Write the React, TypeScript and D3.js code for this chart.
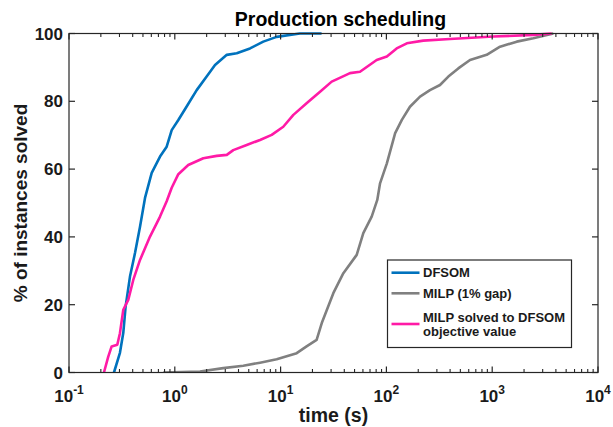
import * as d3 from 'd3';

// DFSOM
const dfsomTime = [0.266, 0.303, 0.326, 0.343, 0.377, 0.421, 0.469, 0.523, 0.605, 0.725, 0.838, 0.935, 1.08, 1.29, 1.61, 2.0, 2.4, 3.1, 3.85, 5.14, 6.86, 9.18, 15.2, 24.4];
const dfsomPct = [0, 5.8, 11.7, 19.5, 28.3, 35.3, 43, 51.5, 58.9, 63.7, 66.6, 71.5, 74.5, 78.4, 83.3, 87.3, 90.7, 93.7, 94.2, 95.6, 97.6, 99, 100, 100];

// MILP (1% gap)
const milpTime = [0.778, 1.73, 2.87, 4.44, 6.39, 9.18, 14.2, 17.6, 21.9, 24.5, 31.5, 39.2, 52.4, 60.5, 72.6, 82.0, 87.1, 101, 121, 140, 167, 208, 258, 321, 385, 478, 617, 887, 1186, 1706, 2447, 3784];
const milpPct = [0, 0.3, 1.3, 2, 2.9, 3.9, 5.7, 7.7, 9.6, 14.6, 23.4, 29.3, 34.7, 41.1, 46, 50.9, 55.8, 61.7, 70.6, 74.5, 78.4, 81.4, 83.3, 84.8, 87.3, 89.7, 92.2, 93.7, 96.1, 97.6, 98.6, 100];

// MILP solved to DFSOM objective value
const objTime = [0.214, 0.235, 0.253, 0.286, 0.303, 0.326, 0.363, 0.405, 0.469, 0.583, 0.674, 0.725, 0.838, 0.935, 1.08, 1.34, 1.86, 2.49, 3.1, 3.57, 4.78, 6.39, 8.24, 10.6, 13.2, 17.6, 23.6, 30.4, 45.3, 56.3, 80.9, 101, 125, 156, 223, 399, 1024, 2447, 3648];
const objPct = [0, 4.7, 7.7, 8.2, 11.6, 18.5, 21.4, 27.3, 33.2, 40.1, 44, 46, 50.5, 54.5, 58.5, 61.2, 63.2, 63.9, 64.2, 65.6, 67.1, 68.6, 70.1, 72.5, 76, 79.4, 82.8, 85.8, 88.3, 88.7, 92.2, 93.2, 95.6, 97.1, 97.9, 98.4, 99.1, 99.6, 100];

const xExponents = [-1, 0, 1, 2, 3, 4];
const yTicks = [0, 20, 40, 60, 80, 100];

const series = [
  { name: 'DFSOM', time: dfsomTime, pct: dfsomPct, color: '#0072bd' },
  { name: 'MILP (1% gap)', time: milpTime, pct: milpPct, color: '#808080' },
  { name: 'MILP solved to DFSOM objective value', time: objTime, pct: objPct, color: '#ff1aa6' },
];

const FONT = '"Liberation Sans", Arial, Helvetica, sans-serif';

export default function App() {
  const W = 613, H = 427;
  const margin = { top: 33.5, right: 15, bottom: 54.5, left: 69 };
  const x0 = margin.left, x1 = W - margin.right;
  const y0 = H - margin.bottom, y1 = margin.top;

  const x = d3.scaleLog().domain([0.1, 10000]).range([x0, x1]);
  const y = d3.scaleLinear().domain([0, 100]).range([y0, y1]);

  const line = d3.line<[number, number]>()
    .x(d => x(d[0]))
    .y(d => y(d[1]));

  // minor ticks for log axis
  const minor: number[] = [];
  for (let e = -1; e < 4; e++) {
    for (let k = 2; k <= 9; k++) minor.push(k * Math.pow(10, e));
  }

  const axisColor = '#262626';

  return (
    <svg width={W} height={H} style={{ position: 'absolute', left: 0, top: 0, background: '#fff' }} fontFamily={FONT}>
      <defs>
        <clipPath id="clip">
          <rect x={x0} y={y1 - 2} width={x1 - x0} height={y0 - y1 + 2} />
        </clipPath>
      </defs>

      {/* series */}
      <g clipPath="url(#clip)">
        {series.map(s => (
          <path key={s.name}
            d={line(s.time.map((t, i) => [t, s.pct[i]]) as [number, number][]) || ''}
            fill="none" stroke={s.color} strokeWidth={2.6} strokeLinejoin="round" />
        ))}
      </g>

      {/* frame */}
      <rect x={x0} y={y1} width={x1 - x0} height={y0 - y1} fill="none" stroke={axisColor} strokeWidth={1.2} />

      {/* x ticks */}
      {xExponents.map(e => {
        const px = x(Math.pow(10, e));
        return (
          <g key={'xt' + e}>
            <line x1={px} x2={px} y1={y0} y2={y0 - 6} stroke={axisColor} strokeWidth={1.2} />
            <line x1={px} x2={px} y1={y1} y2={y1 + 6} stroke={axisColor} strokeWidth={1.2} />
            <text x={px} y={y0 + 29} textAnchor="middle" fontSize={17} fontWeight="bold" fill="#1a1a1a">
              10<tspan dy={-8} fontSize={12}>{e}</tspan>
            </text>
          </g>
        );
      })}
      {minor.map(v => {
        const px = x(v);
        return (
          <g key={'xm' + v}>
            <line x1={px} x2={px} y1={y0} y2={y0 - 3.5} stroke={axisColor} strokeWidth={1.1} />
            <line x1={px} x2={px} y1={y1} y2={y1 + 3.5} stroke={axisColor} strokeWidth={1.1} />
          </g>
        );
      })}

      {/* y ticks */}
      {yTicks.map(v => {
        const py = y(v);
        return (
          <g key={'yt' + v}>
            <line x1={x0} x2={x0 + 6} y1={py} y2={py} stroke={axisColor} strokeWidth={1.2} />
            <line x1={x1} x2={x1 - 6} y1={py} y2={py} stroke={axisColor} strokeWidth={1.2} />
            <text x={x0 - 6} y={py} dy="0.36em" textAnchor="end" fontSize={17} fontWeight="bold" fill="#1a1a1a">{v}</text>
          </g>
        );
      })}

      {/* title & labels */}
      <text x={(x0 + x1) / 2 + 7} y={26} textAnchor="middle" fontSize={19.5} fontWeight="bold" fill="#000">Production scheduling</text>
      <text x={(x0 + x1) / 2} y={422} textAnchor="middle" fontSize={19.5} fontWeight="bold" fill="#1a1a1a">time (s)</text>
      <text transform={`translate(27,${(y0 + y1) / 2}) rotate(-90)`} textAnchor="middle" fontSize={19} fontWeight="bold" fill="#1a1a1a">% of instances solved</text>

      {/* legend */}
      <g>
        <rect x={387.5} y={260} width={184} height={87.5} fill="#fff" stroke={axisColor} strokeWidth={1.2} />
        {[
          { s: series[0], ly: 272.7, lines: ['DFSOM'] },
          { s: series[1], ly: 293.3, lines: ['MILP (1% gap)'] },
          { s: series[2], ly: 324, lines: ['MILP solved to DFSOM', 'objective value'] },
        ].map(({ s, ly, lines }) => (
          <g key={'lg' + s.name}>
            <line x1={391.5} x2={419.5} y1={ly} y2={ly} stroke={s.color} strokeWidth={2.6} />
            <text x={423} y={lines.length === 1 ? ly : ly - 7} fontSize={13} fontWeight="bold" fill="#1a1a1a">
              {lines.map((t, i) => (
                <tspan key={t} x={423} dy={i === 0 ? '0.36em' : 14}>{t}</tspan>
              ))}
            </text>
          </g>
        ))}
      </g>
    </svg>
  );
}
